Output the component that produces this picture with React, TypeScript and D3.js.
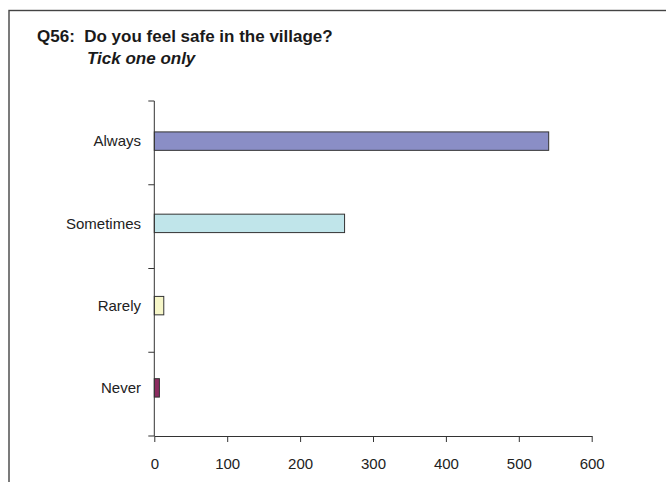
import React, { useEffect, useRef } from "react";
import * as d3 from "d3";

const categories = ["Always", "Sometimes", "Rarely", "Never"];
const values = [541, 261, 13, 7];
const colors = ["#8A8EC6", "#C0E5EA", "#F6F6C8", "#8C2C60"];
const xTicks = [0, 100, 200, 300, 400, 500, 600];
const titleLine1 = "Q56:  Do you feel safe in the village?";
const titleLine2 = "Tick one only";

const W = 666;
const H = 482;

export default function App() {
  const ref = useRef<SVGSVGElement>(null);

  useEffect(() => {
    const svg = d3.select(ref.current);
    svg.selectAll("*").remove();
    const font = "'Liberation Sans', Arial, sans-serif";

    // frame
    svg.append("rect")
      .attr("x", 9).attr("y", 10.5)
      .attr("width", W + 20).attr("height", H + 20)
      .attr("fill", "#fff").attr("stroke", "#444").attr("stroke-width", 1.4);

    // title
    svg.append("text").attr("x", 37).attr("y", 42)
      .attr("font-family", font).attr("font-size", 17).attr("font-weight", "bold")
      .attr("fill", "#1a1a1a").style("white-space", "pre")
      .text(titleLine1);
    svg.append("text").attr("x", 87).attr("y", 64)
      .attr("font-family", font).attr("font-size", 17).attr("font-weight", "bold")
      .attr("font-style", "italic").attr("fill", "#1a1a1a")
      .text(titleLine2);

    const x = d3.scaleLinear().domain([0, 600]).range([154.3, 591.7]);
    // axis bands
    const y = d3.scaleBand<string>().domain(categories).range([101, 436]);
    // bar placement bands (bars sit slightly off the axis band centres in the source)
    const yb = d3.scaleBand<string>().domain(categories).range([100, 429]);
    const barH = y.bandwidth() * 0.22;

    // bars
    svg.append("g").selectAll("rect").data(categories).join("rect")
      .attr("x", x(0))
      .attr("y", (d) => (yb(d) as number) + yb.bandwidth() / 2 - barH / 2)
      .attr("width", (d, i) => x(values[i]) - x(0))
      .attr("height", barH)
      .attr("fill", (d, i) => colors[i])
      .attr("stroke", "#333").attr("stroke-width", 1);

    // y axis (band boundaries as ticks)
    const yg = svg.append("g").attr("stroke", "#333");
    yg.append("line").attr("x1", x(0)).attr("x2", x(0)).attr("y1", 101).attr("y2", 436)
      .attr("stroke-width", 1);
    const boundaries = categories.map((c) => y(c) as number).concat([436]);
    yg.selectAll("line.t").data(boundaries).join("line").attr("class", "t")
      .attr("x1", x(0) - 6).attr("x2", x(0)).attr("y1", (d) => d).attr("y2", (d) => d)
      .attr("stroke-width", 1);
    svg.append("g").selectAll("text").data(categories).join("text")
      .attr("x", 141)
      .attr("y", (d) => (yb(d) as number) + yb.bandwidth() / 2)
      .attr("dy", "0.35em")
      .attr("text-anchor", "end")
      .attr("font-family", font).attr("font-size", 15).attr("fill", "#222")
      .text((d) => d);

    // x axis
    const xg = svg.append("g").attr("transform", "translate(0,436)");
    const axis = d3.axisBottom(x).tickValues(xTicks).tickSize(6).tickSizeOuter(0).tickPadding(16);
    xg.call(axis);
    xg.select(".domain").attr("stroke", "#333");
    xg.selectAll(".tick line").attr("stroke", "#333");
    xg.selectAll(".tick text").attr("font-family", font).attr("font-size", 15).attr("fill", "#222");
  }, []);

  return (
    <svg
      ref={ref}
      width={W}
      height={H}
      style={{ position: "absolute", left: 0, top: 0, display: "block", background: "#fff" }}
    />
  );
}
